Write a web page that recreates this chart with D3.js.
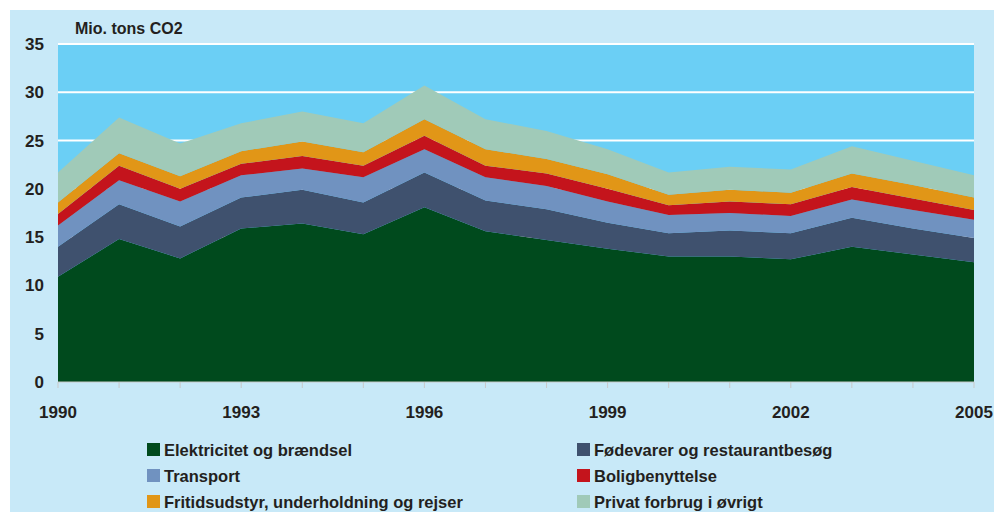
<!DOCTYPE html>
<html>
<head>
<meta charset="utf-8">
<script src="https://d3js.org/d3.v7.min.js"></script>
<style>
  body { margin: 0; background: #ffffff; }
  text { font-family: "Liberation Sans Narrow", "Arial Narrow", "Liberation Sans", sans-serif; font-weight: bold; fill: #231f20; }
</style>
</head>
<body>
<script>
// years on the x axis
var years = [1990, 1991, 1992, 1993, 1994, 1995, 1996, 1997, 1998, 1999, 2000, 2001, 2002, 2003, 2004, 2005];

// series values, mio. tons CO2
var elektricitet = [10.9, 14.8, 12.8, 15.9, 16.4, 15.3, 18.1, 15.6, 14.7, 13.8, 13.0, 13.0, 12.7, 14.0, 13.2, 12.4];
var foedevarer   = [3.1, 3.6, 3.3, 3.2, 3.5, 3.3, 3.6, 3.2, 3.2, 2.7, 2.4, 2.7, 2.7, 3.0, 2.7, 2.5];
var transport    = [2.2, 2.5, 2.6, 2.3, 2.2, 2.6, 2.4, 2.4, 2.4, 2.2, 1.9, 1.8, 1.8, 1.9, 1.9, 1.9];
var bolig        = [1.2, 1.5, 1.3, 1.2, 1.3, 1.2, 1.4, 1.2, 1.3, 1.3, 1.0, 1.2, 1.2, 1.3, 1.2, 1.0];
var fritid       = [1.2, 1.3, 1.3, 1.3, 1.5, 1.4, 1.7, 1.7, 1.5, 1.5, 1.1, 1.2, 1.2, 1.4, 1.4, 1.3];
var privat       = [3.1, 3.7, 3.4, 2.9, 3.1, 3.0, 3.5, 3.1, 2.9, 2.6, 2.3, 2.4, 2.4, 2.8, 2.5, 2.3];

var seriesNames = ["Elektricitet og brændsel", "Fødevarer og restaurantbesøg", "Transport",
                   "Boligbenyttelse", "Fritidsudstyr, underholdning og rejser", "Privat forbrug i øvrigt"];
var seriesValues = [elektricitet, foedevarer, transport, bolig, fritid, privat];
var colors = ["#004a1d", "#3f516e", "#7092c0", "#c4141c", "#e19617", "#a0cab8"];
var yTicks = [0, 5, 10, 15, 20, 25, 30, 35];
var xTickLabels = [1990, 1993, 1996, 1999, 2002, 2005];

function draw() {
  var W = 1007, H = 512;
  var m = { left: 58, right: 974, top: 44, bottom: 382 };

  var svg = d3.select("body").append("svg")
    .attr("width", W)
    .attr("height", H);

  // outer light panel
  svg.append("rect")
    .attr("x", 10).attr("y", 10)
    .attr("width", 984).attr("height", H - 10)
    .attr("fill", "#c8e9f8");

  var x = d3.scaleLinear().domain([1990, 2005]).range([m.left, m.right]);
  var y = d3.scaleLinear().domain([0, 35]).range([m.bottom, m.top]);

  // plot background
  svg.append("rect")
    .attr("x", m.left).attr("y", m.top - 1)
    .attr("width", m.right - m.left).attr("height", m.bottom - m.top + 1)
    .attr("fill", "#6bcff5");

  // white gridlines
  svg.selectAll("line.grid")
    .data(yTicks.filter(function(d) { return d > 0; }))
    .enter().append("line")
    .attr("class", "grid")
    .attr("x1", m.left).attr("x2", m.right)
    .attr("y1", function(d) { return y(d); })
    .attr("y2", function(d) { return y(d); })
    .attr("stroke", "#ffffff")
    .attr("stroke-width", 2);

  // stacked data
  var table = years.map(function(yr, i) {
    var row = { year: yr };
    seriesNames.forEach(function(n, k) { row[n] = seriesValues[k][i]; });
    return row;
  });
  var stacked = d3.stack().keys(seriesNames)(table);

  var area = d3.area()
    .x(function(d) { return x(d.data.year); })
    .y0(function(d) { return y(d[0]); })
    .y1(function(d) { return y(d[1]); });

  svg.selectAll("path.layer")
    .data(stacked)
    .enter().append("path")
    .attr("class", "layer")
    .attr("d", area)
    .attr("fill", function(d, i) { return colors[i]; });

  // x axis line and ticks
  svg.append("line")
    .attr("x1", m.left).attr("x2", m.right)
    .attr("y1", m.bottom).attr("y2", m.bottom)
    .attr("stroke", "#c9c9c9").attr("stroke-width", 1);

  svg.selectAll("line.xtick")
    .data(years)
    .enter().append("line")
    .attr("class", "xtick")
    .attr("x1", function(d) { return x(d); })
    .attr("x2", function(d) { return x(d); })
    .attr("y1", m.bottom).attr("y2", m.bottom + 6)
    .attr("stroke", "#c9c9c9").attr("stroke-width", 1);

  svg.selectAll("text.xlab")
    .data(xTickLabels)
    .enter().append("text")
    .attr("class", "xlab")
    .attr("x", function(d) { return x(d); })
    .attr("y", 418)
    .attr("text-anchor", "middle")
    .style("font-size", "17px")
    .text(function(d) { return d; });

  svg.selectAll("text.ylab")
    .data(yTicks)
    .enter().append("text")
    .attr("class", "ylab")
    .attr("x", 44)
    .attr("y", function(d) { return y(d) + 6; })
    .attr("text-anchor", "end")
    .style("font-size", "17px")
    .text(function(d) { return d; });

  svg.append("text")
    .attr("x", 75).attr("y", 34)
    .style("font-size", "16px")
    .text("Mio. tons CO2");

  // legend, two columns
  var legend = svg.selectAll("g.legend")
    .data(seriesNames)
    .enter().append("g")
    .attr("class", "legend")
    .attr("transform", function(d, i) {
      var col = i % 2, row = Math.floor(i / 2);
      return "translate(" + (col === 0 ? 147 : 577) + "," + (443 + row * 26) + ")";
    });

  legend.append("rect")
    .attr("width", 13).attr("height", 13)
    .attr("fill", function(d, i) { return colors[i]; });

  legend.append("text")
    .attr("x", 17).attr("y", 13)
    .style("font-size", "16.5px")
    .text(function(d) { return d; });
}

draw();
</script>
</body>
</html>
